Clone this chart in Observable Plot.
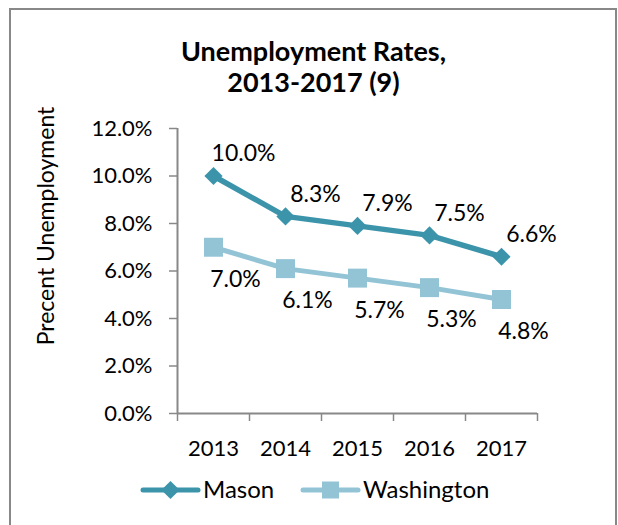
<!DOCTYPE html>
<html>
<head>
<meta charset="utf-8">
<script src="https://cdn.jsdelivr.net/npm/d3@7"></script>
<script src="https://cdn.jsdelivr.net/npm/@observablehq/plot@0.6"></script>
<style>
  body { margin: 0; background: #fff; font-family: Lato, "Open Sans", sans-serif; }
  #wrap { position: relative; width: 618px; height: 525px; overflow: hidden; background: #fff; }
  #chart { position: absolute; left: 0; top: 0; }
  #frame { position: absolute; left: 9px; top: 8px; width: 608px; height: 560px; border: 2px solid #888; box-sizing: border-box; pointer-events: none; }
  #title { position: absolute; left: 10px; width: 607px; top: 35px; text-align: center; font-weight: bold; font-size: 27px; line-height: 31px; color: #000; }
  #legend { position: absolute; left: 0; top: 470px; }
</style>
</head>
<body>
<div id="wrap">
  <div id="chart"></div>
  <div id="title"></div>
  <svg id="legend" width="618" height="44"></svg>
  <div id="frame"></div>
</div>
<script>
const titleLines = ["Unemployment Rates,", "2013-2017 (9)"];
const yLabel = "Precent Unemployment";
const years = [2013, 2014, 2015, 2016, 2017];
const mason = [10.0, 8.3, 7.9, 7.5, 6.6];
const washington = [7.0, 6.1, 5.7, 5.3, 4.8];
const yTicks = [0, 2, 4, 6, 8, 10, 12];
const seriesNames = ["Mason", "Washington"];
const seriesColors = ["#3C94AB", "#93C4D6"];

const rows = (vals) => years.map((year, i) => ({year, value: vals[i]}));
const masonData = rows(mason);
const waData = rows(washington);
const bounds = [years[0] - 0.5, ...years.map(y => y + 0.5)];
const pct = d => d.toFixed(1) + "%";

document.getElementById("title").innerHTML = titleLines.join("<br>");

const chart = Plot.plot({
  width: 618, height: 525,
  marginLeft: 177, marginRight: 81, marginTop: 128, marginBottom: 112,
  style: {fontFamily: "Lato, 'Open Sans', sans-serif", fontSize: "22px", background: "transparent", color: "#000", overflow: "visible"},
  x: {type: "linear", domain: [bounds[0], bounds[bounds.length - 1]]},
  y: {domain: [yTicks[0], yTicks[yTicks.length - 1]]},
  marks: [
    Plot.axisY({ticks: yTicks, tickSize: 8, tickPadding: 17, tickFormat: pct, stroke: "#888", strokeWidth: 1.5, label: null, fontSize: 22}),
    Plot.ruleX([bounds[0]], {y1: yTicks[0], y2: yTicks[yTicks.length - 1], stroke: "#888", strokeWidth: 2}),
    Plot.ruleY([0], {stroke: "#888", strokeWidth: 2}),
    Plot.axisX({ticks: bounds, tickSize: 8, tickFormat: () => "", stroke: "#888", strokeWidth: 1.5, label: null}),
    Plot.axisX({ticks: years, tickSize: 0, tickPadding: 27, tickFormat: d => String(d), label: null, fontSize: 22}),
    Plot.text([yLabel], {text: d => d, frameAnchor: "left", textAnchor: "middle", rotate: -90, dx: -131, dy: -45, fontSize: 23}),
    Plot.line(waData, {x: "year", y: "value", stroke: seriesColors[1], strokeWidth: 5}),
    Plot.line(masonData, {x: "year", y: "value", stroke: seriesColors[0], strokeWidth: 5.5}),
    Plot.dot(waData, {x: "year", y: "value", symbol: "square", r: 10.7, fill: seriesColors[1], stroke: "none"}),
    Plot.dot(masonData, {x: "year", y: "value", symbol: "diamond2", r: 8.2, fill: seriesColors[0], stroke: "none"}),
    Plot.text(masonData, {x: "year", y: "value", text: d => pct(d.value), dx: 30, dy: -22, fontSize: 23}),
    Plot.text(waData, {x: "year", y: "value", text: d => pct(d.value), dx: 22, dy: 32, fontSize: 23})
  ]
});
document.getElementById("chart").appendChild(chart);

// Legend
const leg = d3.select("#legend");
const symbols = [d3.symbolDiamond2, d3.symbolSquare];
const sizes = [8.2, 9.6];
const starts = [143, 303];
seriesNames.forEach((name, i) => {
  const g = leg.append("g").attr("transform", `translate(${starts[i]},20)`);
  g.append("line").attr("x1", 0).attr("x2", 55).attr("y1", 0).attr("y2", 0)
    .attr("stroke", seriesColors[i]).attr("stroke-width", 5).attr("stroke-linecap", "round");
  g.append("path").attr("transform", "translate(27.5,0)")
    .attr("d", d3.symbol(symbols[i], Math.PI * sizes[i] * sizes[i])()).attr("fill", seriesColors[i]);
  g.append("text").attr("x", 60).attr("y", 0).attr("dy", "0.35em")
    .attr("font-family", "Lato, 'Open Sans', sans-serif").attr("font-size", 24).attr("fill", "#000").text(name);
});
</script>
</body>
</html>
